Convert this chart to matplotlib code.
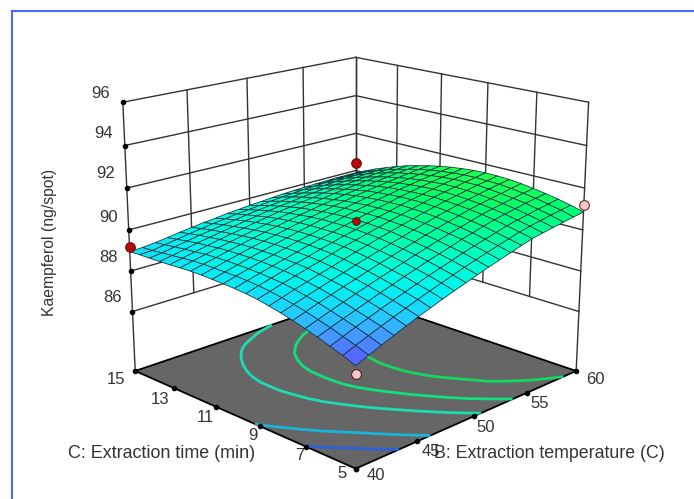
import numpy as np
import matplotlib
matplotlib.use("Agg")
import matplotlib.pyplot as plt
from matplotlib.colors import LinearSegmentedColormap, Normalize
from matplotlib.lines import Line2D

# axis ticks
B_TICKS = [40, 45, 50, 55, 60]
C_TICKS = [5, 7, 9, 11, 13, 15]
Z_TICKS = [86, 88, 90, 92, 94, 96]
Z_FLOOR = 83

# surface grid, rows are C (5 to 15), columns are B (40 to 60)
B_GRID = [40, 41, 42, 43, 44, 45, 46, 47, 48, 49, 50, 51, 52, 53, 54, 55, 56, 57, 58, 59, 60]
C_GRID = [5, 5.5, 6, 6.5, 7, 7.5, 8, 8.5, 9, 9.5, 10, 10.5, 11, 11.5, 12, 12.5, 13, 13.5, 14, 14.5, 15]
KAEMPFEROL = [
    [87.55, 87.79, 88.02, 88.24, 88.46, 88.68, 88.87, 89.07, 89.25, 89.43, 89.61, 89.78, 89.94, 90.10, 90.26, 90.41, 90.51, 90.60, 90.69, 90.78, 90.86],
    [87.78, 88.01, 88.23, 88.44, 88.65, 88.85, 89.05, 89.24, 89.42, 89.60, 89.77, 89.94, 90.10, 90.25, 90.40, 90.55, 90.66, 90.76, 90.86, 90.95, 91.03],
    [87.97, 88.19, 88.41, 88.61, 88.82, 89.01, 89.20, 89.38, 89.57, 89.74, 89.91, 90.08, 90.24, 90.38, 90.53, 90.68, 90.79, 90.89, 90.99, 91.08, 91.17],
    [88.17, 88.38, 88.58, 88.77, 88.97, 89.16, 89.34, 89.53, 89.70, 89.88, 90.04, 90.20, 90.37, 90.51, 90.66, 90.80, 90.91, 91.01, 91.12, 91.21, 91.29],
    [88.34, 88.54, 88.74, 88.93, 89.12, 89.30, 89.48, 89.65, 89.82, 89.99, 90.15, 90.31, 90.47, 90.61, 90.75, 90.90, 91.01, 91.11, 91.21, 91.30, 91.39],
    [88.50, 88.70, 88.89, 89.07, 89.25, 89.42, 89.60, 89.77, 89.93, 90.09, 90.25, 90.41, 90.56, 90.70, 90.84, 90.98, 91.09, 91.19, 91.29, 91.39, 91.48],
    [88.64, 88.83, 89.01, 89.19, 89.36, 89.53, 89.70, 89.87, 90.02, 90.18, 90.33, 90.49, 90.63, 90.78, 90.91, 91.04, 91.15, 91.25, 91.36, 91.45, 91.54],
    [88.76, 88.94, 89.13, 89.29, 89.46, 89.62, 89.79, 89.96, 90.10, 90.26, 90.41, 90.55, 90.69, 90.83, 90.96, 91.08, 91.19, 91.29, 91.40, 91.47, 91.57],
    [88.87, 89.04, 89.22, 89.38, 89.55, 89.70, 89.87, 90.03, 90.17, 90.31, 90.45, 90.59, 90.73, 90.86, 90.99, 91.11, 91.22, 91.31, 91.41, 91.49, 91.58],
    [88.94, 89.11, 89.28, 89.44, 89.60, 89.75, 89.91, 90.06, 90.21, 90.34, 90.48, 90.62, 90.74, 90.88, 90.99, 91.10, 91.21, 91.31, 91.40, 91.48, 91.56],
    [88.99, 89.16, 89.32, 89.48, 89.63, 89.78, 89.94, 90.08, 90.22, 90.36, 90.49, 90.62, 90.74, 90.86, 90.98, 91.08, 91.18, 91.27, 91.36, 91.43, 91.51],
    [89.02, 89.19, 89.35, 89.51, 89.66, 89.80, 89.95, 90.08, 90.22, 90.35, 90.48, 90.60, 90.72, 90.84, 90.94, 91.04, 91.13, 91.22, 91.30, 91.37, 91.44],
    [89.04, 89.20, 89.36, 89.52, 89.66, 89.80, 89.94, 90.08, 90.21, 90.34, 90.46, 90.57, 90.68, 90.79, 90.89, 90.99, 91.07, 91.15, 91.22, 91.29, 91.35],
    [89.06, 89.21, 89.37, 89.51, 89.66, 89.79, 89.92, 90.05, 90.18, 90.30, 90.41, 90.52, 90.62, 90.73, 90.82, 90.90, 90.98, 91.05, 91.12, 91.19, 91.24],
    [89.06, 89.21, 89.35, 89.50, 89.63, 89.76, 89.89, 90.01, 90.13, 90.24, 90.35, 90.45, 90.54, 90.64, 90.72, 90.80, 90.87, 90.94, 91.01, 91.05, 91.10],
    [89.04, 89.19, 89.33, 89.46, 89.59, 89.71, 89.83, 89.95, 90.07, 90.17, 90.27, 90.36, 90.45, 90.54, 90.61, 90.68, 90.75, 90.80, 90.87, 90.91, 90.96],
    [89.01, 89.15, 89.28, 89.41, 89.54, 89.65, 89.76, 89.88, 89.98, 90.09, 90.17, 90.26, 90.33, 90.42, 90.48, 90.55, 90.60, 90.65, 90.70, 90.74, 90.78],
    [88.99, 89.10, 89.23, 89.36, 89.47, 89.58, 89.68, 89.79, 89.88, 89.98, 90.06, 90.13, 90.21, 90.27, 90.34, 90.39, 90.44, 90.48, 90.52, 90.55, 90.58],
    [88.98, 89.06, 89.18, 89.29, 89.41, 89.50, 89.60, 89.69, 89.78, 89.86, 89.93, 90.00, 90.07, 90.12, 90.18, 90.22, 90.26, 90.30, 90.32, 90.35, 90.37],
    [88.97, 89.00, 89.11, 89.21, 89.32, 89.41, 89.50, 89.58, 89.66, 89.72, 89.79, 89.85, 89.91, 89.95, 90.00, 90.03, 90.06, 90.09, 90.10, 90.12, 90.13],
    [88.95, 88.98, 89.05, 89.13, 89.23, 89.31, 89.39, 89.45, 89.53, 89.58, 89.64, 89.68, 89.73, 89.77, 89.80, 89.83, 89.85, 89.86, 89.88, 89.88, 89.88],
]
CONTOUR_LEVELS = [88.35, 88.9, 89.72, 90.2, 90.75]
CONTOUR_COLORS = ["#2a62d8", "#18b4dc", "#1cdcb0", "#10e080", "#10d860"]

# design points: B, C, response, above/below surface colour
POINT_B = [40, 60, 50, 60, 40]
POINT_C = [15, 15, 10, 5, 5]
POINT_Z = [89.17, 90.4, 90.45, 91.2, 87.2]
POINT_COLOR = ["#b80808", "#b80808", "#b80808", "#f4c8c8", "#f4c8c8"]
POINT_SIZE = [7, 7, 5.5, 7, 7]

SURFACE_CMAP = LinearSegmentedColormap.from_list(
    "response", ["#5a50ff", "#4a90ff", "#20d0ff", "#00f4f0", "#00ffd0", "#00ffa0", "#00ff70", "#20ff50"])

LINE_COLOR = "#333333"
TEXT_COLOR = "#333333"
W, H = 694, 499

plt.rcParams["font.family"] = ["Liberation Sans", "DejaVu Sans"]

fig = plt.figure(figsize=(W / 100, H / 100), dpi=100)
ax = fig.add_axes([0.0, 0.005, 1.0, 1.0], projection="3d")
ax.set_anchor((0.51, 0.5))
ax.computed_zorder = False
ax.set_proj_type("persp", focal_length=0.58)
ax.view_init(elev=17.7, azim=-135)
ax.set_box_aspect((1, 1, 0.88), zoom=1.038)
ax.set_xlim(B_TICKS[0], B_TICKS[-1])
ax.set_ylim(C_TICKS[0], C_TICKS[-1])
ax.set_zlim(Z_FLOOR, Z_TICKS[-1])
ax.set_axis_off()

b_min, b_max = B_TICKS[0], B_TICKS[-1]
c_min, c_max = C_TICKS[0], C_TICKS[-1]
z_top = Z_TICKS[-1]

# wall grid
for b in B_TICKS:
    bottom = Z_FLOOR if b == b_min or b == b_max else Z_TICKS[0]
    ax.plot([b, b], [c_max, c_max], [bottom, z_top], color=LINE_COLOR, lw=1.0, zorder=1)
for c in C_TICKS:
    bottom = Z_FLOOR if c == c_min else Z_TICKS[0]
    ax.plot([b_max, b_max], [c, c], [bottom, z_top], color=LINE_COLOR, lw=1.0, zorder=1)
for z in Z_TICKS:
    ax.plot([b_min, b_max], [c_max, c_max], [z, z], color=LINE_COLOR, lw=1.0, zorder=1)
    ax.plot([b_max, b_max], [c_min, c_max], [z, z], color=LINE_COLOR, lw=1.0, zorder=1)

# floor
floor_b, floor_c = np.meshgrid([b_min, b_max], [c_min, c_max])
ax.plot_surface(floor_b, floor_c, np.full(floor_b.shape, Z_FLOOR), color="#666666", shade=False, zorder=2)
ax.plot([b_min, b_max], [c_max, c_max], [Z_FLOOR, Z_FLOOR], color="black", lw=1.3, zorder=3)
ax.plot([b_max, b_max], [c_min, c_max], [Z_FLOOR, Z_FLOOR], color="black", lw=1.3, zorder=3)
ax.plot([b_min, b_max], [c_min, c_min], [Z_FLOOR, Z_FLOOR], color="black", lw=1.3, zorder=3)
ax.plot([b_min, b_min], [c_min, c_max], [Z_FLOOR, Z_FLOOR], color="black", lw=1.3, zorder=3)

grid_b, grid_c = np.meshgrid(B_GRID, C_GRID)
grid_z = np.array(KAEMPFEROL)

ax.contour(grid_b, grid_c, grid_z, levels=CONTOUR_LEVELS, colors=CONTOUR_COLORS,
           linewidths=2.0, zdir="z", offset=Z_FLOOR, zorder=4)

# tick dots
ax.plot(B_TICKS, [c_min] * len(B_TICKS), [Z_FLOOR] * len(B_TICKS), ls="", marker="o", ms=3, color="black", zorder=4)
ax.plot([b_min] * len(C_TICKS), C_TICKS, [Z_FLOOR] * len(C_TICKS), ls="", marker="o", ms=3, color="black", zorder=4)
ax.plot([b_min] * len(Z_TICKS), [c_max] * len(Z_TICKS), Z_TICKS, ls="", marker="o", ms=3, color="black", zorder=4)

norm = Normalize(vmin=grid_z.min(), vmax=grid_z.max())
ax.plot_surface(grid_b, grid_c, grid_z, rstride=1, cstride=1, cmap=SURFACE_CMAP, norm=norm,
                edgecolor="#103038", linewidth=0.55, shade=False, antialiased=True, zorder=5)

for b, c, z, color, size in zip(POINT_B, POINT_C, POINT_Z, POINT_COLOR, POINT_SIZE):
    ax.plot([b], [c], [z], ls="", marker="o", ms=size, mfc=color, mec="#5a1010", mew=0.7, zorder=6)


def px_text(x, y, s, size=12, **kwargs):
    fig.text(x / W, 1 - y / H, s, color=TEXT_COLOR, fontsize=size, va="center", **kwargs)


for label, x, y in zip(Z_TICKS, [122, 118, 118, 115, 113, 110], [298, 257, 217, 174, 134, 93]):
    px_text(x, y, str(label), ha="right")
for label, x, y in zip(C_TICKS, [342, 300, 253, 205, 160, 116], [474, 456, 436, 417, 400, 379]):
    px_text(x, y, str(label), ha="center")
for label, x, y in zip(B_TICKS, [376, 431, 486, 540, 595], [475, 451, 428, 404, 380]):
    px_text(x, y, str(label), ha="center")

px_text(68, 454, "C: Extraction time (min)", size=12.85, ha="left")
px_text(434, 454, "B: Extraction temperature (C)", size=12.75, ha="left")
fig.text(50 / W, 1 - 242 / H, "Kaempferol (ng/spot)", color=TEXT_COLOR, fontsize=11.3,
         rotation=90, va="center", ha="center")

# page border, only top and left are in the crop
fig.add_artist(Line2D([12 / W, 12 / W], [0, 1 - 11 / H], color="#4a6cf7", lw=1.5))
fig.add_artist(Line2D([12 / W, 1], [1 - 11 / H, 1 - 11 / H], color="#4a6cf7", lw=1.5))

fig.savefig("out.png", dpi=100)
